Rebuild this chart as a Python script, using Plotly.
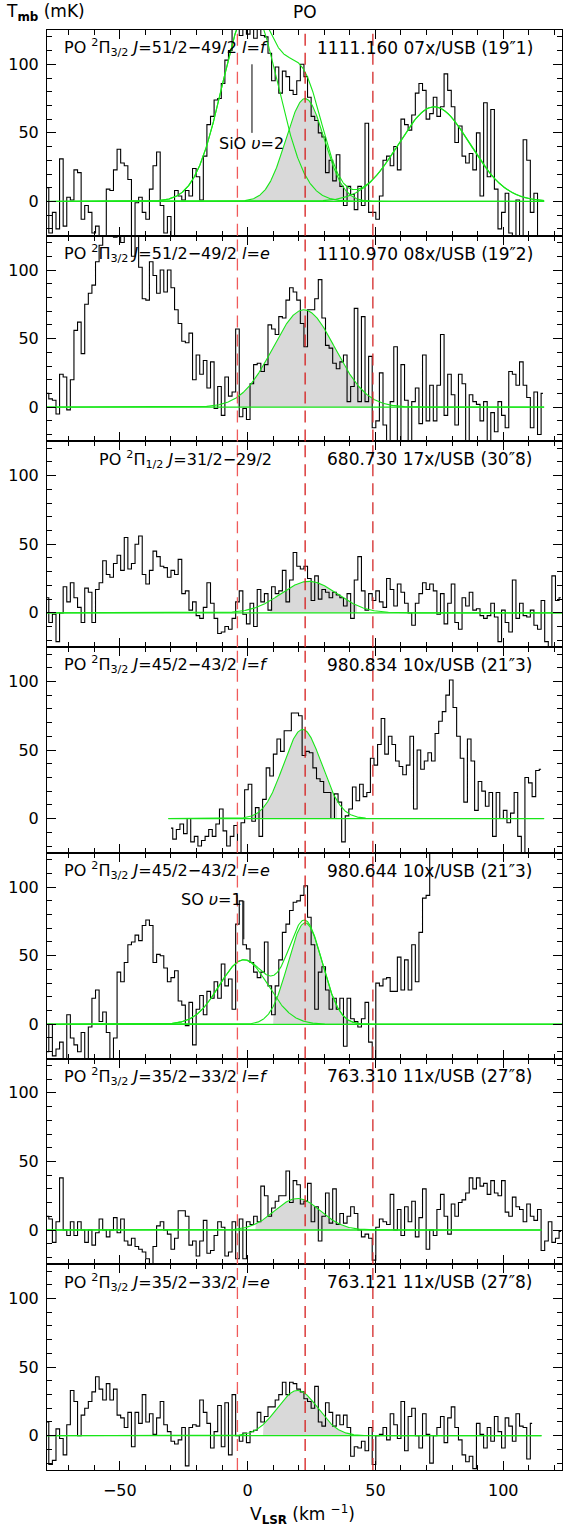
import numpy as np
import plotly.graph_objects as go
from plotly.subplots import make_subplots

# ---------------- data (T_mb in mK, channel width DV km/s) ----------------
DV = 1.406
XRANGE = [-78.5, 123.0]
YRANGE = [-25, 125]
DASH_V = [-4.0, 22.5, 49.0]

p1_v0 = -78.5
p1_T = [10, -23, -8, -20, 31, -18, 3, 1, 23, 21,
        -13, -3, -8, -23, -18, -30, -27, 9, 8, 23,
        38, 28, 26, 16, -30, -1, 3, -8, -13, 9,
        26, 36, -3, -23, -11, -30, 8, 4, 1, 8,
        4, 24, 18, 1, 33, 56, 62, 74, 75, 86,
        103, 110, 130, 135, 121, 140, 122, 145, 119, 132,
        121, 120, 108, 88, 98, 79, 95, 91, 81, 78,
        88, 100, 91, 76, 62, 59, 50, 47, 21, 30,
        15, 34, 11, -3, 11, 5, -6, 11, -3, 57,
        -8, -8, -13, 4, 30, 33, 26, 40, 23, 60,
        56, 52, 63, 79, 86, 81, 60, 64, 76, 62,
        69, 93, 81, 69, 43, 55, 33, 28, 35, 23,
        50, 4, 72, 18, 67, 9, -20, -8, 6, -23,
        -27, 1, -30, 45, 30, -8, 6, -30]

p2_v0 = -78.5
p2_T = [10, 6, 5, -5, 24, 22, -2, 20, 56, 62,
        39, 75, 83, 89, 106, 118, 128, 135, 128, 124,
        135, 120, 130, 128, 110, 126, 102, 79, 78, 106,
        96, 83, 100, 84, 100, 87, 71, 61, 48, 47,
        54, 20, 38, 24, 34, 14, 33, -1, 15, -6,
        22, 8, 11, 57, -7, -1, -9, 17, 31, 32,
        26, 31, 60, 57, 53, 66, 65, 78, 87, 84,
        78, 61, 44, 71, 71, 79, 93, 65, 45, 43,
        32, 28, 33, 38, 4, 15, 72, 4, 66, 4,
        37, -15, -10, 25, -13, -30, 4, 44, -30, 31,
        5, -30, 4, 14, -12, 38, -10, 16, -10, 16,
        53, -6, 24, 9, -13, 24, 17, -30, 9, 4,
        2, -10, 4, -30, -4, -18, 4, -6, -15, 26,
        24, 16, 33, 16, 7, -15, 11, -20, 10]

p3_v0 = -78.5
p3_T = [11, -7, -1, -21, 0, 19, 8, 22, 11, 4,
        -7, 18, 15, -7, 17, 22, 38, 28, 26, 36,
        42, 31, 55, 32, 36, 50, 56, 28, 21, 31,
        45, 41, 34, 33, 26, 31, 28, 39, 14, 16,
        2, 8, -2, -4, 4, 22, 7, -4, -15, -14,
        -10, -12, -4, 8, 16, -1, -8, 7, -10, 17,
        8, 14, 2, 19, 14, 16, 31, 8, 24, 44,
        34, 32,
        34, 25, 9, 27, 10, 17, 15, 11, 15, 13,
        11, 5, 14, -4, 24, 41, 16, 2, 14, 9,
        16, 8, 4, 25, 17, 5, 21, 15, 7, 0,
        -9, 7, 14, 22, 17, 21, 16, -1, 14, -8,
        7, 21, -7, -12, 11, 5, 15, 2, 3, -2,
        -4, -2, 7, -3, -21, 2, -7, -14, 24, -4,
        7, -2, -3, 2, -9, -12, 9, -21, -27, 27,
        9, 11]

p4_v0 = -30.0
p4_T = [-7, -15, -8, -4, -11, 0, -17, -13, -20, -16,
        -13, -8, -13, -4, 7, -9, -20, -13, -5, -30,
        -3, 21, 25, -2, 8, -13, 14, 37, 31, 47,
        58, 49, 64, 64, 77, 77, 75, 46, 49, 48,
        37, 29, 27, 19, 19, 0, 18, 12, -17, 2,
        7, 23, 13, 25, 16, 19, 44, 39, 54, 73,
        47, 60, 54, 42, 38, 32, 39, 60, 7, 50,
        36, 42, 48, 42, 62, 71, 78, 90, 101, 81,
        60, 44, 12, 58, 42, 6, 27, 20, 9, 19,
        -13, 19, 0, 6, -3, 4, 19, -13, -30, 30,
        26, 16, 35, 36]

p5_v0 = -78.5
p5_T = [-20, 0, -23, -18, -13, -28, 7, -10, -15, -20,
        -6, -30, -2, 19, 25, 2, 9, -6, -28, -10,
        38, 31, 45, 58, 60, 65, 61, 72, 76, 72,
        45, 51, 50, 41, 31, 34, 39, 17, 14, -1,
        16, -15, 11, 21, 7, 24, 19, 31, 19, 44,
        28, 33, 11, 73, 90, 58, 55, 45, 38, 34,
        38, 60, 28, 7, 28, 47, 67, 73, 83, 89,
        90, 94, 101, 78, 58, 11, 38, 42, 25, 11,
        19, 11, 19, -16, 19, 4, 2, -2, 4, 16,
        -13, -28, 30, 28, 33, 34, 24, 24, 49, 25,
        47, 25, 58, 31, 67, 92, 94, 135, 150, 160,
        145, 170, 160, 155, 165, 150, 170, 160, 150, 140,
        155, 160, 150, 145, 155, 150, 140, 150, 145, 140,
        150, 145, 140, 150, 140]

p6_v0 = -78.5
p6_T = [10, 8, -9, 6, 38, 0, -4, 6, -4, 6,
        0, -9, 0, -11, -2, 8, 0, -5, 0, 9,
        -2, 8, -8, -11, -6, -12, -14, -16, -21, -26,
        -12, 3, 6, 0, -3, -14, -6, 14, 14, 10,
        -11, -8, -19, -8, 7, -17, -15, -4, 6, 2,
        -19, -16, 6, -21, 8, -21, 6, 4, 10, 6,
        32, 25, 10, 16, 21, 25, 25, 43, 20, 36,
        33, 19,
        21, 34, 6, 17, -8, 10, 27, 5, 30, 4,
        12, 5, 10, 17, 12, 0, -5, -3, -6, -22,
        2, 8, 6, 4, 26, 0, 15, -4, 17, 6,
        21, -5, 9, 30, -14, 0, -4, 15, 26, 10,
        -3, 19, 10, 20, 22, 27, 38, 30, 38, 32,
        34, 26, 36, 27, 25, 36, 13, 10, 24, 17,
        15, 6, 19, 10, 7, 15, -15, -8, 6, -9,
        -6, -1]

p7_v0 = -78.5
p7_T = [10, -21, -18, 5, -2, -14, 8, 33, 25, 0,
        15, 20, 25, 32, 43, 34, 26, 38, 26, 34,
        15, 13, 6, 17, -8, 17, 9, 30, 10, 16,
        1, 13, 25, 8, 3, -4, -6, -3, 6, -22,
        6, 8, 7, 26, 17, 9, -9, 3, 22, -8,
        24, -14, 30, 0, -4, 2, -5, 3, 4, 17,
        10, 14, 21, 21, 26, 30, 39, 30, 39, 38,
        34, 32,
        27, 25, 20, 36, 10, 7, 24, 17, 7, 15,
        8, 15, 6, -15, -8, -9, -4, -11, 6, -21,
        0, 1, 6, -3, 16, 8, -2, 25, -11, 14,
        20, 0, -9, 16, 1, -20, 0, 6, 14, -5,
        13, 21, 6, -3, -14, -19, -15, -24, 9, 1,
        -9, 6, -4, 14, 3, -9, 13, 7, -4, 16,
        7, 6, -17, 9]

# Gaussian fit components: (peak mK, centre km/s, sigma km/s)
p1_fit = [(142, 1.0, 10.75), (75, 22.5, 7.5), (69, 73.0, 14.0)]
p2_fit = [(71, 22.0, 12.2)]
p3_fit = [(23, 24.0, 11.0)]
p4_fit = [(65, 21.5, 7.5)]
p5_fit = [(47, -1.5, 9.5), (74, 22.5, 6.7)]
p6_fit = [(23, 19.5, 9.0)]
p7_fit = [(33, 19.5, 8.0)]

po_index = [1, 0, 0, 0, 1, 0, 0]          # which component is PO (shaded)
fill_lims = [[-4, 49], [-4, 49], [8.8, 42.7], [1.7, 35.0],
             [10.0, 45.0], [3.0, 40.0], [6.0, 40.5]]
base_lims = [[-78.5, 116], [-78.5, 116], [-78.5, 123], [-31, 116],
             [-78.5, 123], [-78.5, 115], [-78.5, 115]]

left_labels = [
    "PO <sup>2</sup>Π<sub>3/2</sub> <i>J</i>=51/2−49/2 <i>l</i>=<i>f</i>",
    "PO <sup>2</sup>Π<sub>3/2</sub> <i>J</i>=51/2−49/2 <i>l</i>=<i>e</i>",
    "PO <sup>2</sup>Π<sub>1/2</sub> <i>J</i>=31/2−29/2",
    "PO <sup>2</sup>Π<sub>3/2</sub> <i>J</i>=45/2−43/2 <i>l</i>=<i>f</i>",
    "PO <sup>2</sup>Π<sub>3/2</sub> <i>J</i>=45/2−43/2 <i>l</i>=<i>e</i>",
    "PO <sup>2</sup>Π<sub>3/2</sub> <i>J</i>=35/2−33/2 <i>l</i>=<i>f</i>",
    "PO <sup>2</sup>Π<sub>3/2</sub> <i>J</i>=35/2−33/2 <i>l</i>=<i>e</i>",
]
left_label_x = [-72.5, -72.5, -59.0, -72.5, -72.5, -72.5, -72.5]
right_labels = [
    "1111.160 07x/USB (19″1)",
    "1110.970 08x/USB (19″2)",
    "680.730 17x/USB (30″8)",
    "980.834 10x/USB (21″3)",
    "980.644 10x/USB (21″3)",
    "763.310 11x/USB (27″8)",
    "763.121 11x/USB (27″8)",
]

spectra = [(p1_v0, p1_T), (p2_v0, p2_T), (p3_v0, p3_T), (p4_v0, p4_T),
           (p5_v0, p5_T), (p6_v0, p6_T), (p7_v0, p7_T)]
fits = [p1_fit, p2_fit, p3_fit, p4_fit, p5_fit, p6_fit, p7_fit]
draw_sum = [True, False, False, False, True, False, False]

# ---------------- figure ----------------
FONT = "DejaVu Sans"
GREEN = "#19e619"
fig = make_subplots(rows=7, cols=1, shared_xaxes=True, vertical_spacing=0)


def gauss(x, a, c, s):
    return a * np.exp(-0.5 * ((x - c) / s) ** 2)


for i in range(7):
    r = i + 1
    v0, T = spectra[i]
    T = np.array(T, dtype=float)
    v = v0 + DV * np.arange(len(T))
    comps = fits[i]
    lo, hi = base_lims[i]
    xx = np.linspace(lo, hi, 1200)

    # shaded PO area
    fa, fb = fill_lims[i]
    xf = np.linspace(fa, fb, 300)
    a, c, s = comps[po_index[i]]
    yf = gauss(xf, a, c, s)
    fig.add_trace(go.Scatter(x=np.r_[fa, xf, fb], y=np.r_[0, yf, 0], mode="lines",
                             line=dict(width=0), fill="toself",
                             fillcolor="#d9d9d9", hoverinfo="skip"), row=r, col=1)

    # spectrum histogram
    fig.add_trace(go.Scatter(x=v, y=T, mode="lines", line_shape="hvh",
                             line=dict(color="black", width=1.1)), row=r, col=1)

    # baseline
    fig.add_trace(go.Scatter(x=[lo, hi], y=[0, 0], mode="lines",
                             line=dict(color=GREEN, width=1.3)), row=r, col=1)
    # components
    total = np.zeros_like(xx)
    for (a, c, s) in comps:
        g = gauss(xx, a, c, s)
        total += g
        fig.add_trace(go.Scatter(x=xx, y=g, mode="lines",
                                 line=dict(color=GREEN, width=1.1)), row=r, col=1)
    if draw_sum[i]:
        fig.add_trace(go.Scatter(x=xx, y=total, mode="lines",
                                 line=dict(color=GREEN, width=1.1)), row=r, col=1)

    xa = "x" if r == 1 else f"x{r}"
    ya = "y" if r == 1 else f"y{r}"
    # labels
    fig.add_annotation(x=left_label_x[i], y=112, xref=xa, yref=ya, text=left_labels[i],
                       showarrow=False, xanchor="left", yanchor="middle",
                       font=dict(family=FONT, size=16, color="black"))
    fig.add_annotation(x=112.5, y=112, xref=xa, yref=ya, text=right_labels[i],
                       showarrow=False, xanchor="right", yanchor="middle",
                       font=dict(family=FONT, size=17, color="black"))
    # dashed velocity markers
    for k, dv in enumerate(DASH_V):
        col = ["#f05a5a", "#d61e1e", "#d42a2a"][k]
        fig.add_shape(type="line", x0=dv, x1=dv, y0=0, y1=1, xref=xa,
                      yref=f"{ya} domain", line=dict(color=col, width=1.3, dash="12px,7px"))

# line identifications
fig.add_shape(type="line", x0=1.7, x1=1.7, y0=50, y1=100, xref="x", yref="y",
              line=dict(color="black", width=1))
fig.add_annotation(x=1.5, y=42, xref="x", yref="y", text="SiO <i>υ</i>=2", showarrow=False,
                   font=dict(family=FONT, size=16, color="black"))
fig.add_shape(type="line", x0=-1.5, x1=-1.5, y0=62, y1=90, xref="x5", yref="y5",
              line=dict(color="black", width=1))
fig.add_annotation(x=-14, y=91, xref="x5", yref="y5", text="SO <i>υ</i>=1", showarrow=False,
                   font=dict(family=FONT, size=16, color="black"))

# axis titles
fig.add_annotation(x=-0.083, y=1.0125, xref="paper", yref="paper",
                   text="T<sub><b>mb</b></sub> (mK)", showarrow=False,
                   xanchor="left", yanchor="middle", font=dict(family=FONT, size=17, color="black"))
fig.add_annotation(x=22.5, y=1.0125, xref="x", yref="paper", text="PO", showarrow=False,
                   yanchor="middle", font=dict(family=FONT, size=17, color="black"))
fig.add_annotation(x=0.497, y=-0.031, xref="paper", yref="paper",
                   text="V<sub><b>LSR</b></sub> (km <sup>−1</sup>)", showarrow=False,
                   yanchor="middle", font=dict(family=FONT, size=17, color="black"))

axis_common = dict(showline=True, linecolor="black", linewidth=1.1, mirror="allticks",
                   ticks="inside", tickcolor="black", tickwidth=1, ticklen=9,
                   showgrid=False, zeroline=False, automargin=False,
                   tickfont=dict(family=FONT, size=16, color="black"))
for r in range(1, 8):
    fig.update_xaxes(range=XRANGE, tickvals=[-50, 0, 50, 100],
                     minor=dict(dtick=10, tick0=0, ticks="inside", ticklen=5,
                                tickcolor="black", showgrid=False),
                     showticklabels=(r == 7), ticklabelstandoff=6,
                     **axis_common, row=r, col=1)
    fig.update_yaxes(range=YRANGE, tickvals=[0, 50, 100],
                     minor=dict(dtick=10, tick0=0, ticks="inside", ticklen=5,
                                tickcolor="black", showgrid=False),
                     ticklabelstandoff=4,
                     **axis_common, row=r, col=1)

fig.update_layout(width=564, height=1530, showlegend=False,
                  margin=dict(l=47, r=2, t=30, b=60),
                  paper_bgcolor="white", plot_bgcolor="white")
fig.write_html("out.html", config={"displayModeBar": False},
               post_script="document.body.style.margin='0';document.body.style.overflow='hidden';")
